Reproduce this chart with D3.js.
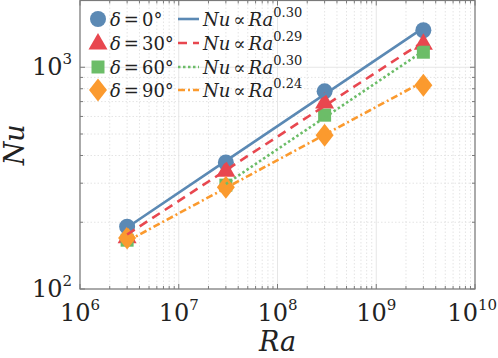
<!DOCTYPE html>
<html>
<head>
<meta charset="utf-8">
<script src="https://cdn.jsdelivr.net/npm/d3@7"></script>
<style>
  body { margin: 0; background: #fff; }
  svg { display: block; }
  text { font-family: "DejaVu Serif", serif; fill: #222; }
</style>
</head>
<body>
<svg id="chart" width="498" height="358"></svg>
<script>
// data
const raValues = [3e6, 3e7, 3e8, 3e9];
const nuDelta0 = [191, 372, 779, 1468];
const nuDelta30 = [172, 343, 698, 1282];
const nuDelta60 = [166, 294, 608, 1169];
const nuDelta90 = [170, 288, 494, 830];
const deltas = [0, 30, 60, 90];
const exponents = [0.30, 0.29, 0.30, 0.24];
const fitFrom = [0, 0, 1, 0]; // index of first Ra in each fit
const xTicks = [1e6, 1e7, 1e8, 1e9, 1e10];
const yTicks = [1e2, 1e3];

const colors = ["#5b89b4", "#e8474f", "#6cbd68", "#fb9a2e"];
const dashes = [null, "9,6", "2.5,2.5", "7,3,2,3"];

const series = [nuDelta0, nuDelta30, nuDelta60, nuDelta90].map((nu, i) => ({
    delta: deltas[i], b: exponents[i], from: fitFrom[i], color: colors[i], dash: dashes[i],
    points: raValues.map((ra, j) => ({ra: ra, nu: nu[j]}))
}));

const margin = {left: 80, right: 23, top: 0, bottom: 69};
const width = 498, height = 358;
const svg = d3.select("#chart");

const x = d3.scaleLog().domain([1e6, 1e10]).range([margin.left, width - margin.right]);
const y = d3.scaleLog().domain([100, 2000]).range([height - margin.bottom, margin.top + 0.5]);
const [x0, x1] = x.range();
const [y0, y1] = y.range();

// minor / major grid values
const xMinor = [], yMinor = [];
for (let e = 6; e < 10; e++) for (let k = 2; k <= 9; k++) xMinor.push(k * Math.pow(10, e));
for (let e = 2; e < 4; e++) for (let k = 2; k <= 9; k++) if (k * Math.pow(10, e) <= 2000) yMinor.push(k * Math.pow(10, e));

const grid = svg.append("g");
grid.selectAll(".xminor").data(xMinor).enter().append("line")
    .attr("x1", d => x(d)).attr("x2", d => x(d)).attr("y1", y0).attr("y2", y1)
    .attr("stroke", "#e4e4e4").attr("stroke-width", 1).attr("stroke-dasharray", "1.5,2");
grid.selectAll(".yminor").data(yMinor).enter().append("line")
    .attr("y1", d => y(d)).attr("y2", d => y(d)).attr("x1", x0).attr("x2", x1)
    .attr("stroke", "#e4e4e4").attr("stroke-width", 1).attr("stroke-dasharray", "1.5,2");
grid.selectAll(".xmajor").data(xTicks).enter().append("line")
    .attr("x1", d => x(d)).attr("x2", d => x(d)).attr("y1", y0).attr("y2", y1)
    .attr("stroke", "#e6e6e6").attr("stroke-width", 1);
grid.selectAll(".ymajor").data(yTicks).enter().append("line")
    .attr("y1", d => y(d)).attr("y2", d => y(d)).attr("x1", x0).attr("x2", x1)
    .attr("stroke", "#e6e6e6").attr("stroke-width", 1);

// frame + inward ticks
const axisColor = "#7a7a7a";
svg.append("rect").attr("x", x0).attr("y", y1).attr("width", x1 - x0).attr("height", y0 - y1)
    .attr("fill", "none").attr("stroke", axisColor).attr("stroke-width", 1.2);
const ticks = svg.append("g").attr("stroke", axisColor).attr("stroke-width", 1);
xTicks.concat(xMinor).forEach(v => {
    const len = xTicks.includes(v) ? 5 : 3;
    ticks.append("line").attr("x1", x(v)).attr("x2", x(v)).attr("y1", y0).attr("y2", y0 - len);
    ticks.append("line").attr("x1", x(v)).attr("x2", x(v)).attr("y1", y1).attr("y2", y1 + len);
});
yTicks.concat(yMinor).forEach(v => {
    const len = yTicks.includes(v) ? 5 : 3;
    ticks.append("line").attr("y1", y(v)).attr("y2", y(v)).attr("x1", x0).attr("x2", x0 + len);
    ticks.append("line").attr("y1", y(v)).attr("y2", y(v)).attr("x1", x1).attr("x2", x1 - len);
});

// tick labels
function powLabel(sel, v) {
    const e = Math.round(Math.log10(v));
    sel.append("tspan").text("10");
    sel.append("tspan").attr("font-size", 15).attr("dy", -11).text(e);
}
svg.selectAll(".xlab").data(xTicks).enter().append("text")
    .attr("y", 321).attr("font-size", 24).attr("text-anchor", "middle")
    .each(function(d) {
        const t = d3.select(this);
        powLabel(t, d);
        const w = this.getComputedTextLength();
        t.attr("x", Math.min(x(d), width - 1 - w / 2));
    });
svg.selectAll(".ylab").data(yTicks).enter().append("text")
    .attr("x", 72).attr("y", d => y(d) + 8).attr("font-size", 24).attr("text-anchor", "end")
    .each(function(d) { powLabel(d3.select(this), d); });

// axis titles
svg.append("text").attr("x", x(1e8)).attr("y", 351).attr("font-size", 27)
    .attr("font-style", "italic").attr("text-anchor", "middle").text("Ra");
svg.append("text").attr("transform", `translate(24,${(y0 + y1) / 2}) rotate(-90)`)
    .attr("font-size", 27).attr("font-style", "italic").attr("text-anchor", "middle").text("Nu");

// markers
const markerPaths = [
    d3.symbol().type(d3.symbolCircle).size(Math.PI * 64)(),
    "M0,-10L9.5,6.5L-9.5,6.5Z",
    "M-6.5,-6.5H6.5V6.5H-6.5Z",
    "M0,-11.5L9,0L0,11.5L-9,0Z"
];
series.forEach((s, i) => {
    svg.append("g").selectAll("path").data(s.points).enter().append("path")
        .attr("d", markerPaths[i])
        .attr("transform", d => `translate(${x(d.ra)},${y(d.nu)})`)
        .attr("fill", s.color);
});

// power-law fits with fixed exponent (least squares prefactor in log space)
const line = d3.line().x(d => x(d.ra)).y(d => y(d.nu));
series.forEach(s => {
    const pts = s.points.slice(s.from);
    const logC = d3.mean(pts, p => Math.log10(p.nu) - s.b * Math.log10(p.ra));
    const fit = pts.map(p => ({ra: p.ra, nu: Math.pow(10, logC + s.b * Math.log10(p.ra))}));
    svg.append("path").datum(fit).attr("d", line)
        .attr("fill", "none").attr("stroke", s.color).attr("stroke-width", 2.6)
        .attr("stroke-dasharray", s.dash);
});

// legend
const legend = svg.append("g");
const rowY = [19, 43, 67, 90];
series.forEach((s, i) => {
    const ry = rowY[i];
    legend.append("path").attr("d", markerPaths[i])
        .attr("transform", `translate(98,${ry})`).attr("fill", s.color);
    const t1 = legend.append("text").attr("x", 110).attr("y", ry + 7).attr("font-size", 18);
    t1.append("tspan").attr("font-style", "italic").text("δ");
    t1.append("tspan").attr("dx", 3).text("=");
    t1.append("tspan").attr("dx", 3).text(`${s.delta}°`);
    legend.append("line").attr("x1", 178).attr("x2", 199).attr("y1", ry).attr("y2", ry)
        .attr("stroke", s.color).attr("stroke-width", 2.6).attr("stroke-dasharray", s.dash);
    const t2 = legend.append("text").attr("x", 203).attr("y", ry + 7).attr("font-size", 18);
    t2.append("tspan").attr("font-style", "italic").text("Nu");
    t2.append("tspan").attr("dx", 3).text("∝");
    t2.append("tspan").attr("dx", 3).attr("font-style", "italic").text("Ra");
    t2.append("tspan").attr("font-size", 13).attr("dy", -9).text(s.b.toFixed(2));
});
</script>
</body>
</html>
